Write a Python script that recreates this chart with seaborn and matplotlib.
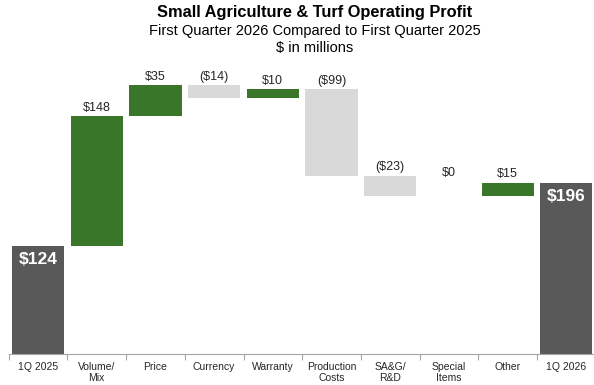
import matplotlib
matplotlib.use("Agg")
import matplotlib.pyplot as plt
import seaborn as sns
import numpy as np
import pandas as pd

categories = ["1Q 2025", "Volume/\nMix", "Price", "Currency", "Warranty",
              "Production\nCosts", "SA&G/\nR&D", "Special\nItems", "Other", "1Q 2026"]
changes = [124, 148, 35, -14, 10, -99, -23, 0, 15, 196]
value_labels = ["$124", "$148", "$35", "($14)", "$10", "($99)", "($23)", "$0", "$15", "$196"]
kinds = ["total", "step", "step", "step", "step", "step", "step", "step", "step", "total"]

GREEN = "#3a7629"
LIGHT = "#d9d9d9"
DARK = "#595959"

# waterfall geometry: running level before and after each step
bottoms, heights, tops = [], [], []
level = 0
for v, k in zip(changes, kinds):
    if k == "total":
        b, t = 0, v
        level = v
    else:
        start, end = level, level + v
        b, t = min(start, end), max(start, end)
        level = end
    bottoms.append(b)
    heights.append(t - b)
    tops.append(t)

colors = []
for v, k in zip(changes, kinds):
    if k == "total":
        colors.append(DARK)
    elif v >= 0:
        colors.append(GREEN)
    else:
        colors.append(LIGHT)

df = pd.DataFrame({"category": categories, "height": heights})

sns.set_theme(style="white")
plt.rcParams["font.family"] = ["Liberation Sans", "DejaVu Sans"]

fig = plt.figure(figsize=(5.94, 3.85), dpi=100)
ax = fig.add_axes([8.7 / 594, 1 - 354 / 385, 587 / 594, (354 - 60) / 385])

sns.barplot(data=df, x="category", y="height", bottom=np.array(bottoms),
            width=0.89, color=GREEN, linewidth=0, saturation=1, ax=ax)
for patch, c in zip(ax.patches, colors):
    patch.set_facecolor(c)

ax.set_xlim(-0.5, len(categories) - 0.5)
ax.set_ylim(0, 336)

for i, (lab, k, t) in enumerate(zip(value_labels, kinds, tops)):
    if k == "total":
        ax.annotate(lab, (i, t), xytext=(0, -5), textcoords="offset points",
                    ha="center", va="top", color="white", fontsize=12.5,
                    fontweight="bold")
    else:
        off = 12 if changes[i] == 0 else 1.5
        ax.annotate(lab, (i, t), xytext=(0, off), textcoords="offset points",
                    ha="center", va="bottom", color="#262626", fontsize=9)

# axis: baseline only, with small ticks between categories
for side in ["top", "right", "left"]:
    ax.spines[side].set_visible(False)
ax.spines["bottom"].set_color("#a6a6a6")
ax.spines["bottom"].set_linewidth(0.8)
ax.set_yticks([])
ax.set_ylabel("")
ax.set_xlabel("")
ax.set_xticks(range(len(categories)))
ax.set_xticklabels(categories, fontsize=7.5, color="#262626", linespacing=1.1)
ax.set_xticks(np.arange(-0.5, len(categories), 1.0), minor=True)
ax.tick_params(axis="x", which="major", length=0, pad=6)
ax.tick_params(axis="x", which="minor", length=4, width=0.8, color="#a6a6a6",
               direction="out", bottom=True)

fig.text(0.53, 1 - 13 / 385, "Small Agriculture & Turf Operating Profit",
         ha="center", va="center", fontsize=11.8, fontweight="bold", color="black")
fig.text(0.53, 1 - 31 / 385, "First Quarter 2026 Compared to First Quarter 2025",
         ha="center", va="center", fontsize=10.5, color="black")
fig.text(0.53, 1 - 48 / 385, "$ in millions",
         ha="center", va="center", fontsize=10.5, color="black")

fig.savefig("out.png", dpi=100)
